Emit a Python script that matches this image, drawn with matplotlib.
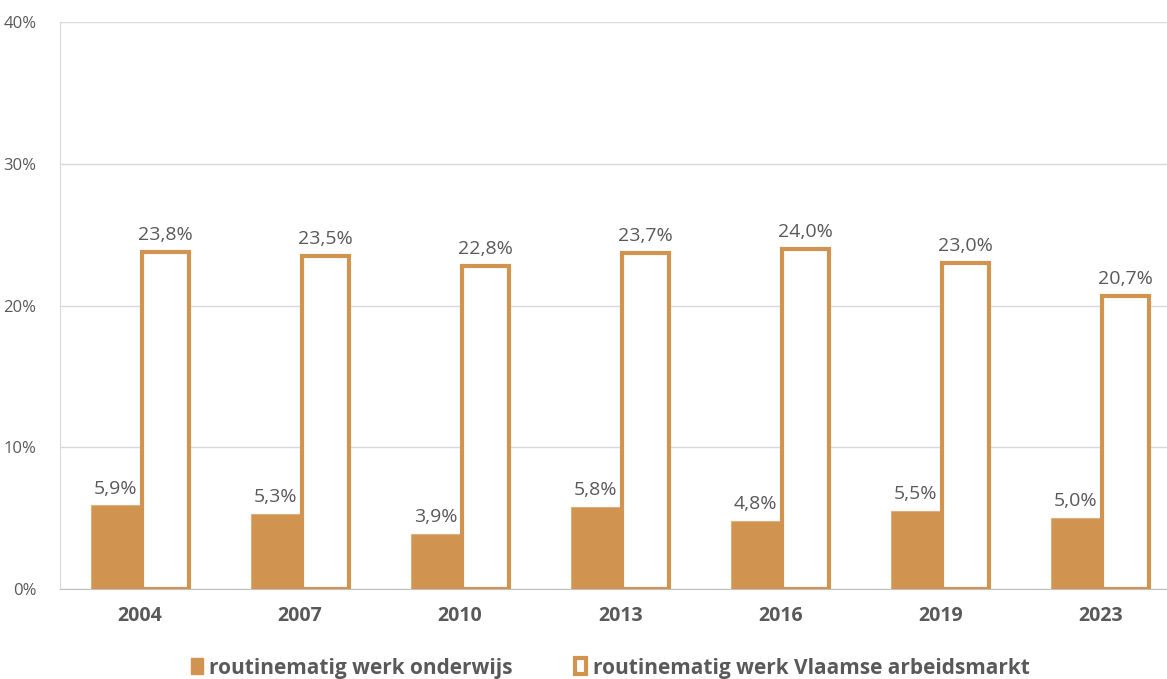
import numpy as np
import matplotlib.pyplot as plt
from matplotlib.patches import Patch

years = ["2004", "2007", "2010", "2013", "2016", "2019", "2023"]
onderwijs = [5.9, 5.3, 3.9, 5.8, 4.8, 5.5, 5.0]
arbeidsmarkt = [23.8, 23.5, 22.8, 23.7, 24.0, 23.0, 20.7]

orange = "#D09350"
grey = "#595959"

plt.rcParams["font.family"] = ["Open Sans", "DejaVu Sans"]

fig = plt.figure(figsize=(11.67, 6.79), dpi=100)
ax = fig.add_axes([0.0514, 0.1325, 0.96, 0.8351])

x = np.arange(len(years))
w = 0.306
ax.bar(x - w / 2, onderwijs, w, color=orange, edgecolor="#DDB07E", linewidth=0.8, zorder=3)
ax.bar(x + 0.16, arbeidsmarkt, 0.294, color="white", edgecolor=orange,
       linewidth=3, zorder=3)

for i in range(len(years)):
    ax.text(x[i] - w / 2, onderwijs[i] + 0.55, f"{onderwijs[i]:.1f}%".replace(".", ","),
            ha="center", va="bottom", fontsize=14, color=grey)
    ax.text(x[i] + 0.16, arbeidsmarkt[i] + 0.55, f"{arbeidsmarkt[i]:.1f}%".replace(".", ","),
            ha="center", va="bottom", fontsize=14, color=grey)

ax.set_xlim(-0.5, len(years) - 0.5)
ax.set_ylim(0, 40)
ax.set_yticks([0, 10, 20, 30, 40])
ax.set_yticklabels(["0%", "10%", "20%", "30%", "40%"])
ax.set_xticks(x)
ax.set_xticklabels(years, fontweight="bold")
ax.tick_params(axis="y", length=0, labelsize=12, labelcolor=grey, pad=17)
ax.tick_params(axis="x", length=0, labelsize=14, labelcolor=grey, pad=12)
ax.grid(axis="y", color="#D9D9D9", linewidth=1, zorder=0)
for s in ["top", "right"]:
    ax.spines[s].set_visible(False)
ax.spines["left"].set_color("#D9D9D9")
ax.spines["bottom"].set_color("#BFBFBF")

handles = [Patch(facecolor=orange, edgecolor=orange),
           Patch(facecolor="white", edgecolor=orange, linewidth=3)]
fig.legend(handles, ["routinematig werk onderwijs", "routinematig werk Vlaamse arbeidsmarkt"],
           loc="lower center", bbox_to_anchor=(0.523, -0.027), ncol=2, frameon=False,
           prop={"weight": "bold", "size": 15}, labelcolor=grey,
           handlelength=0.55, handleheight=0.8, handletextpad=0.3, columnspacing=3.0)

fig.savefig("out.png", dpi=100)
